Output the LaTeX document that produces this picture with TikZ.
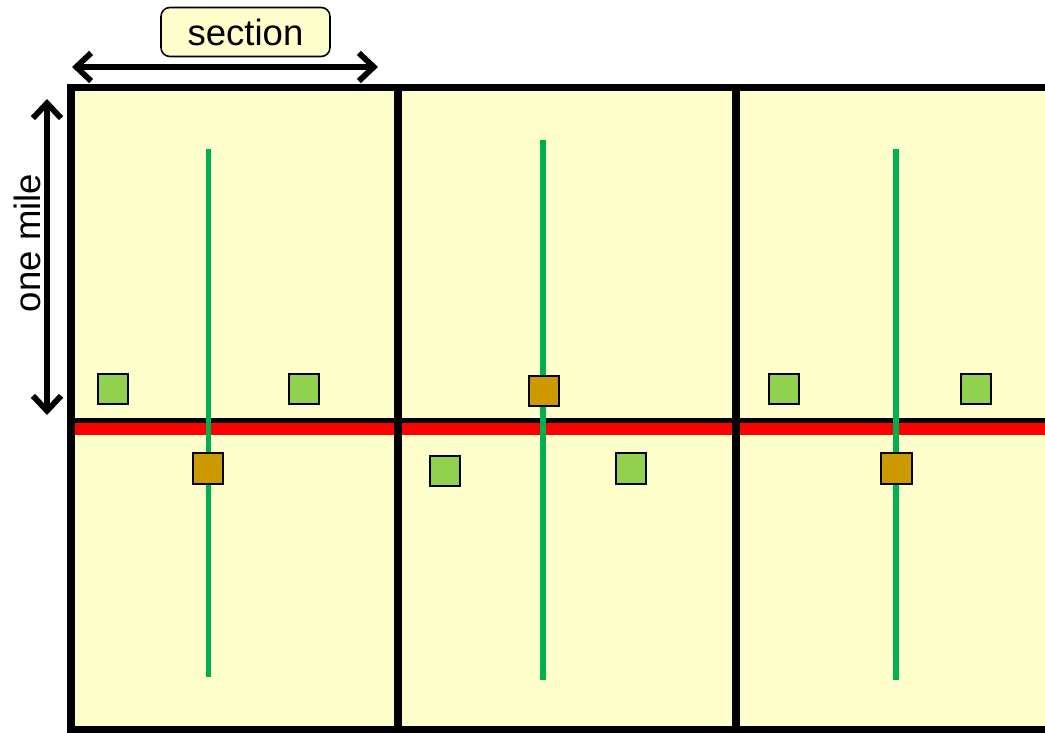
\documentclass[tikz,border=0pt]{standalone}
\usepackage{fontspec}
\setmainfont{Liberation Sans}
\usepackage{tikz}
\usetikzlibrary{arrows.meta}
\definecolor{fieldyellow}{HTML}{FFFFCC}
\definecolor{plotgreen}{HTML}{92D050}
\definecolor{wellbrown}{HTML}{CC9900}
\definecolor{pipegreen}{HTML}{00B050}
\tikzset{
  plotbox/.style={draw, line width=0.9pt, fill=plotgreen, minimum size=0.61cm, inner sep=0pt},
  wellbox/.style={plotbox, fill=wellbrown},
  pipe/.style={pipegreen, line width=3.4pt},
  border/.style={line width=4pt, line cap=rect},
  dimarrow/.style={line width=3.3pt, {Straight Barb[length=8.5pt,width=16pt,line width=3.3pt]}-{Straight Barb[length=8.5pt,width=16pt,line width=3.3pt]}}
}
\begin{document}
\begin{tikzpicture}[x=0.02cm,y=-0.02cm, every node/.style={font=\fontsize{20.8}{25}\selectfont}]
    \useasboundingbox (0,0) rectangle (1045,733);
    % -------------------------
    % Fields
    % -------------------------
    \fill[fieldyellow] (71,87.5) rectangle (1050,730);

    % Road along the section line
    \draw[red, line width=6.3pt] (73,429) -- (1050,429);

    % Section lines
    \draw[border] (1050,87.5) -- (71,87.5) -- (71,730) -- (1050,730);
    \draw[line width=2.9pt] (71,420.5) -- (1050,420.5);
    \draw[border] (398,87.5) -- (398,730);
    \draw[border] (736,87.5) -- (736,730);

    % -------------------------
    % Pipelines
    % -------------------------
    \draw[pipe] (208.5,149) -- (208.5,677);
    \draw[pipe] (543,140) -- (543,680);
    \draw[pipe] (896,149) -- (896,680);

    % -------------------------
    % Plots and wells
    % -------------------------
    \node[plotbox] (plotA) at (113,389) {};
    \node[plotbox] (plotB) at (304,389) {};
    \node[wellbox] (wellA) at (208,468.5) {};

    \node[wellbox] (wellB) at (544,391) {};
    \node[plotbox] (plotC) at (445,471) {};
    \node[plotbox] (plotD) at (631,468.5) {};

    \node[plotbox] (plotE) at (784,389) {};
    \node[plotbox] (plotF) at (976,389) {};
    \node[wellbox] (wellC) at (896.5,468.5) {};

    % -------------------------
    % Dimensions
    % -------------------------
    \node[draw, line width=0.9pt, fill=fieldyellow, rounded corners=5pt,
          minimum width=3.38cm, minimum height=0.98cm] (section) at (245.5,32) {section};
    \coordinate (secL) at (72,67);
    \coordinate (secR) at (378,67);
    \draw[dimarrow] (secL) -- (secR);

    \node[rotate=90] (mile) at (27,243) {one mile};
    \coordinate (mileT) at (47,99);
    \coordinate (mileB) at (47,415);
    \draw[dimarrow] (mileT) -- (mileB);

\end{tikzpicture}
\end{document}
